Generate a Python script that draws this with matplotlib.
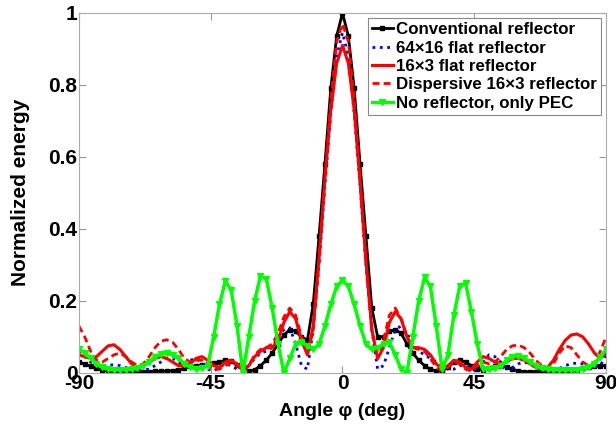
import numpy as np
import matplotlib
matplotlib.use("Agg")
import matplotlib.pyplot as plt

plt.rcParams['font.family'] = ['Liberation Sans', 'DejaVu Sans']
plt.rcParams['font.weight'] = 'bold'
plt.rcParams['axes.unicode_minus'] = False

# angle grid, 2 deg steps from -90 to 90 (10 values per row below:
# -90..-72, -70..-52, -50..-32, -30..-12, -10..8, 10..28, 30..48, 50..68, 70..88, 90)
angle = np.arange(-90, 91, 2)

# Conventional reflector
conventional = [
    0.030, 0.024, 0.018, 0.012, 0.008, 0.005, 0.004, 0.003, 0.003, 0.003,
    0.003, 0.003, 0.003, 0.004, 0.004, 0.005, 0.006, 0.008, 0.012, 0.018,
    0.020, 0.022, 0.024, 0.026, 0.030, 0.035, 0.032, 0.022, 0.010, 0.005,
    0.008, 0.020, 0.035, 0.055, 0.080, 0.105, 0.120, 0.115, 0.100, 0.090,
    0.190, 0.380, 0.580, 0.790, 0.935, 1.000, 0.935, 0.790, 0.580, 0.380,
    0.180, 0.100, 0.100, 0.115, 0.120, 0.110, 0.080, 0.055, 0.035, 0.020,
    0.010, 0.005, 0.005, 0.015, 0.030, 0.035, 0.030, 0.020, 0.010, 0.008,
    0.012, 0.020, 0.020, 0.015, 0.010, 0.005, 0.003, 0.003, 0.003, 0.003,
    0.003, 0.003, 0.003, 0.003, 0.005, 0.008, 0.012, 0.015, 0.020, 0.020,
    0.020,
]

# 64x16 flat reflector
flat_64x16 = [
    0.060, 0.045, 0.030, 0.020, 0.020, 0.022, 0.022, 0.020, 0.015, 0.008,
    0.005, 0.008, 0.010, 0.020, 0.030, 0.040, 0.040, 0.030, 0.020, 0.035,
    0.040, 0.030, 0.010, 0.005, 0.015, 0.025, 0.020, 0.010, 0.008, 0.020,
    0.040, 0.055, 0.060, 0.070, 0.100, 0.120, 0.125, 0.080, 0.020, 0.010,
    0.120, 0.300, 0.520, 0.720, 0.880, 0.945, 0.880, 0.720, 0.520, 0.300,
    0.120, 0.010, 0.020, 0.070, 0.120, 0.130, 0.110, 0.080, 0.060, 0.050,
    0.040, 0.030, 0.020, 0.010, 0.010, 0.020, 0.020, 0.010, 0.005, 0.030,
    0.050, 0.045, 0.030, 0.015, 0.015, 0.025, 0.030, 0.025, 0.015, 0.008,
    0.005, 0.008, 0.012, 0.020, 0.025, 0.027, 0.025, 0.020, 0.015, 0.020,
    0.050,
]

# 16x3 flat reflector
flat_16x3 = [
    0.050, 0.045, 0.040, 0.045, 0.060, 0.075, 0.078, 0.065, 0.045, 0.025,
    0.015, 0.020, 0.030, 0.040, 0.045, 0.040, 0.030, 0.020, 0.020, 0.025,
    0.040, 0.045, 0.035, 0.020, 0.015, 0.030, 0.035, 0.025, 0.010, 0.020,
    0.045, 0.060, 0.070, 0.070, 0.090, 0.140, 0.170, 0.150, 0.090, 0.050,
    0.130, 0.320, 0.540, 0.730, 0.860, 0.910, 0.860, 0.730, 0.530, 0.310,
    0.120, 0.040, 0.070, 0.140, 0.170, 0.150, 0.100, 0.070, 0.070, 0.065,
    0.050, 0.025, 0.010, 0.020, 0.035, 0.030, 0.015, 0.010, 0.030, 0.045,
    0.040, 0.030, 0.025, 0.030, 0.040, 0.040, 0.035, 0.025, 0.015, 0.010,
    0.015, 0.035, 0.065, 0.090, 0.105, 0.108, 0.100, 0.080, 0.055, 0.040,
    0.055,
]

# Dispersive 16x3 reflector
dispersive_16x3 = [
    0.130, 0.100, 0.060, 0.035, 0.030, 0.040, 0.050, 0.055, 0.045, 0.030,
    0.020, 0.025, 0.045, 0.070, 0.088, 0.092, 0.085, 0.065, 0.040, 0.030,
    0.035, 0.035, 0.020, 0.010, 0.010, 0.020, 0.030, 0.020, 0.005, 0.020,
    0.050, 0.065, 0.070, 0.080, 0.110, 0.155, 0.180, 0.160, 0.100, 0.050,
    0.120, 0.310, 0.540, 0.760, 0.920, 0.970, 0.920, 0.760, 0.540, 0.310,
    0.120, 0.040, 0.090, 0.160, 0.180, 0.150, 0.100, 0.070, 0.065, 0.060,
    0.040, 0.015, 0.005, 0.015, 0.030, 0.025, 0.010, 0.005, 0.020, 0.030,
    0.025, 0.030, 0.045, 0.065, 0.075, 0.077, 0.070, 0.055, 0.035, 0.020,
    0.012, 0.025, 0.055, 0.075, 0.070, 0.050, 0.030, 0.020, 0.025, 0.060,
    0.100,
]

# No reflector, only PEC
pec_only = [
    0.065, 0.055, 0.040, 0.025, 0.015, 0.010, 0.008, 0.008, 0.008, 0.010,
    0.012, 0.020, 0.030, 0.045, 0.052, 0.055, 0.050, 0.040, 0.025, 0.015,
    0.010, 0.012, 0.020, 0.100, 0.190, 0.255, 0.230, 0.130, 0.000, 0.100,
    0.200, 0.270, 0.260, 0.180, 0.080, 0.000, 0.040, 0.080, 0.085, 0.075,
    0.065, 0.080, 0.130, 0.190, 0.240, 0.258, 0.240, 0.190, 0.130, 0.080,
    0.065, 0.070, 0.080, 0.085, 0.050, 0.010, 0.000, 0.100, 0.200, 0.265,
    0.240, 0.130, 0.010, 0.050, 0.160, 0.240, 0.250, 0.170, 0.080, 0.010,
    0.010, 0.012, 0.020, 0.035, 0.045, 0.048, 0.040, 0.030, 0.020, 0.012,
    0.010, 0.008, 0.008, 0.008, 0.008, 0.008, 0.010, 0.015, 0.025, 0.045,
    0.065,
]

fig = plt.figure(figsize=(6.16, 4.30), dpi=100)
ax = fig.add_axes([0.128, 0.133, 0.856, 0.837])

ax.plot(angle, conventional, color='black', lw=2, marker='s', ms=2.5,
        label='Conventional reflector')
ax.plot(angle, flat_64x16, color='blue', lw=2, ls=':',
        label='64\u00d716 flat reflector')
ax.plot(angle, flat_16x3, color='red', lw=2.2, ls='-',
        label='16\u00d73 flat reflector')
ax.plot(angle, dispersive_16x3, color='red', lw=2, ls='--', dashes=(2.5, 1.5),
        label='Dispersive 16\u00d73 reflector')
ax.plot(angle, pec_only, color='#00ff00', lw=2.5, marker='v', ms=5,
        label='No reflector, only PEC')

ax.set_xlim(-90, 90)
ax.set_ylim(0, 1)
ax.set_xticks([-90, -45, 0, 45, 90])
ax.set_yticks([0, 0.2, 0.4, 0.6, 0.8, 1])
ax.set_yticklabels(['0', '0.2', '0.4', '0.6', '0.8', '1'])
ax.tick_params(direction='in', top=True, right=True, length=5,
               color='#999999', labelsize=15, pad=1)
for s in ax.spines.values():
    s.set_color('#aaaaaa')

ax.set_xlabel('Angle \u03c6 (deg)', fontsize=14, fontweight='bold', labelpad=7)
ax.set_ylabel('Normalized energy', fontsize=15, fontweight='bold', labelpad=13)

leg = ax.legend(loc='upper right', fontsize=12.2, handlelength=1.2,
                handletextpad=0.2, labelspacing=0.2, borderpad=0.25,
                borderaxespad=0.3, fancybox=False, framealpha=1)
leg.get_frame().set_edgecolor('#888888')
leg.get_frame().set_linewidth(0.8)

fig.savefig('out.png', dpi=100)
